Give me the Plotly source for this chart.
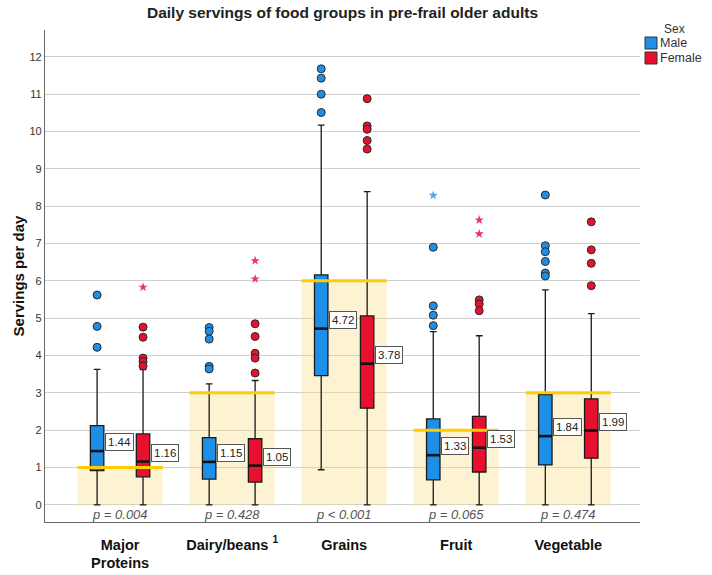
import plotly.graph_objects as go

# ---------------- data ----------------
categories = ["Major<br>Proteins", "Dairy/beans <sup>1</sup>", "Grains", "Fruit", "Vegetable"]
recommended = [1, 3, 6, 2, 3]
p_values = ["p = 0.004", "p = 0.428", "p < 0.001", "p = 0.065", "p = 0.474"]
sexes = ["Male", "Female"]

male_low = [0, 0, 0.94, 0, 0]
male_q1 = [0.92, 0.69, 3.46, 0.67, 1.07]
male_median = [1.44, 1.15, 4.72, 1.33, 1.84]
male_q3 = [2.12, 1.80, 6.16, 2.30, 2.95]
male_high = [3.63, 3.24, 10.17, 4.64, 5.76]
male_outliers = [[5.62, 4.78, 4.22], [4.75, 4.65, 4.44, 3.71, 3.64], [11.68, 11.43, 11.0, 10.51],
                 [6.90, 5.33, 5.08, 4.80], [8.30, 6.94, 6.78, 6.52, 6.21, 6.13]]
male_extremes = [[], [], [], [8.29], []]

female_low = [0, 0, 0, 0, 0]
female_q1 = [0.75, 0.61, 2.59, 0.88, 1.25]
female_median = [1.16, 1.05, 3.78, 1.53, 1.99]
female_q3 = [1.90, 1.77, 5.06, 2.37, 2.84]
female_high = [3.62, 3.33, 8.39, 4.53, 5.12]
female_outliers = [[4.76, 4.49, 3.93, 3.84, 3.72], [4.85, 4.51, 4.06, 3.93, 3.53],
                   [10.88, 10.15, 10.06, 9.76, 9.53], [5.49, 5.38, 5.20], [7.58, 6.83, 6.47, 5.87]]
female_extremes = [[5.83], [6.54, 6.05], [], [7.63, 7.26], []]

# ---------------- styling ----------------
BLUE = "#1E8FE6"
RED = "#E8102E"
BLUE_STAR = "#4FA6EE"
RED_STAR = "#E8365A"
OFF = 0.205
BOXW = 0.12
HALF = 0.38
FONT = "Arial, Liberation Sans, sans-serif"

n = len(categories)
idx = list(range(n))
male_x = [i - OFF for i in idx]
female_x = [i + OFF for i in idx]

fig = go.Figure()

# recommended-serving shaded areas
fig.add_trace(go.Bar(x=idx, y=recommended, width=2 * HALF,
                     marker=dict(color="rgba(249,221,129,0.35)", line=dict(width=0)),
                     showlegend=False, hoverinfo="skip"))
gx, gy = [], []
for i, r in zip(idx, recommended):
    gx += [i - HALF, i + HALF, None]
    gy += [r, r, None]
fig.add_trace(go.Scatter(x=gx, y=gy, mode="lines", line=dict(color="#FFCC00", width=3),
                         showlegend=False, hoverinfo="skip"))

def add_box(xs, low, q1, med, q3, high, color):
    fig.add_trace(go.Box(x=xs, lowerfence=low, q1=q1, median=med, q3=q3, upperfence=high,
                         fillcolor=color, line=dict(color="#1a1a1a", width=1.3),
                         width=BOXW, whiskerwidth=0.5, boxpoints=False,
                         showlegend=False, hoverinfo="skip"))
    mx, my = [], []
    for x, m in zip(xs, med):
        mx += [x - BOXW / 2, x + BOXW / 2, None]
        my += [m, m, None]
    fig.add_trace(go.Scatter(x=mx, y=my, mode="lines", line=dict(color="#111", width=2.6),
                             showlegend=False, hoverinfo="skip"))

add_box(male_x, male_low, male_q1, male_median, male_q3, male_high, BLUE)
add_box(female_x, female_low, female_q1, female_median, female_q3, female_high, RED)

def add_points(xs, groups, color, symbol, size, outline):
    px, py = [], []
    for x, g in zip(xs, groups):
        for v in g:
            px.append(x)
            py.append(v)
    if not px:
        return
    fig.add_trace(go.Scatter(x=px, y=py, mode="markers",
                             marker=dict(symbol=symbol, size=size, color=color,
                                         line=dict(color="#2a2a2a", width=1 if outline else 0)),
                             showlegend=False, hoverinfo="skip"))

add_points(male_x, male_outliers, BLUE, "circle", 8, True)
add_points(female_x, female_outliers, RED, "circle", 8, True)
add_points(male_x, male_extremes, BLUE_STAR, "star", 7, False)
add_points(female_x, female_extremes, RED_STAR, "star", 7, False)

# median labels
for xs, meds in [(male_x, male_median), (female_x, female_median)]:
    for x, m in zip(xs, meds):
        fig.add_annotation(x=x + BOXW / 2, y=m, text=f"{m:.2f}", xanchor="left", yanchor="bottom",
                           showarrow=False, bgcolor="white", bordercolor="#555", borderwidth=1,
                           borderpad=2, font=dict(family=FONT, size=11.5, color="#222"),
                           xshift=1)

# p-values
for i, p in zip(idx, p_values):
    fig.add_annotation(x=i, y=-0.27, text=p, showarrow=False, yanchor="middle",
                       font=dict(family=FONT, size=13, color="#555", style="italic"))

# manual legend (outside plot area, paper coordinates)
def px_x(p):
    return (p - 45) / 595
def px_y(p):
    return (522 - p) / 492

fig.add_annotation(x=px_x(674), y=px_y(29), xref="paper", yref="paper", text="Sex",
                   xanchor="center", yanchor="middle",
                   showarrow=False, font=dict(family=FONT, size=12, color="#333"))
for k, (name, color) in enumerate(zip(sexes, [BLUE, RED])):
    cy = 43 + 15 * k
    fig.add_shape(type="rect", xref="paper", yref="paper",
                  x0=px_x(645), x1=px_x(657), y0=px_y(cy + 6), y1=px_y(cy - 6),
                  fillcolor=color, line=dict(color="#333", width=1))
    fig.add_annotation(x=px_x(658), y=px_y(cy), xref="paper", yref="paper", text=name,
                       xanchor="left", yanchor="middle", showarrow=False,
                       font=dict(family=FONT, size=12.5, color="#333"))

fig.update_layout(
    width=712, height=575,
    margin=dict(l=45, r=72, t=30, b=53),
    paper_bgcolor="white", plot_bgcolor="white",
    boxmode="overlay", barmode="overlay", showlegend=False,
    font=dict(family=FONT, color="#222"),
    title=dict(text="Daily servings of food groups in pre-frail older adults",
               x=0.5, xref="paper", y=1 - 13 / 575, yref="container", yanchor="middle",
               font=dict(size=15.5, weight="bold", color="#222")),
)
fig.update_xaxes(range=[-0.67, 4.64], tickvals=idx, ticktext=categories, automargin=False,
                 showgrid=False, zeroline=False, showline=True, linecolor="#666", linewidth=1.2,
                 tickfont=dict(size=14.5, weight="bold", color="#111"), ticks="",
                 ticklabelstandoff=9)
fig.update_yaxes(range=[-0.46, 12.72], tickvals=list(range(13)), automargin=False,
                 showgrid=True, gridcolor="#cfcfcf", gridwidth=1, zeroline=False,
                 showline=True, linecolor="#666", linewidth=1.2,
                 tickfont=dict(size=11, color="#333"),
                 title=dict(text="Servings per day", font=dict(size=15, weight="bold", color="#111"),
                            standoff=1))

fig.write_html(
    "out.html",
    config={"displayModeBar": False},
    post_script=(
        "document.documentElement.style.margin='0px';"
        "document.documentElement.style.overflow='hidden';"
        "document.body.style.margin='0px';"
        "document.body.style.padding='0px';"
        "document.body.style.overflow='hidden';"
    ),
)
